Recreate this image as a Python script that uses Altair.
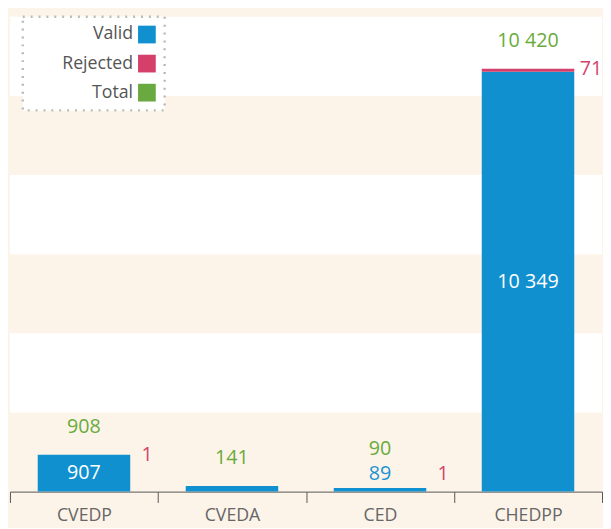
import altair as alt
import pandas as pd

categories = ["CVEDP", "CVEDA", "CED", "CHEDPP"]
valid = [907, 141, 89, 10349]
rejected = [1, 0, 1, 71]
total = [908, 141, 90, 10420]
series = ["Valid", "Rejected", "Total"]
series_colors = ["#1190d0", "#d4406a", "#6aa840"]
band_starts = [1950, 5850, 9750]
band_ends = [3900, 7800, 11700]
y_max = 11700

FONT = "Open Sans"
CREAM = "#fdf4e9"

df = pd.DataFrame({"cat": categories, "Valid": valid, "Rejected": rejected, "Total": total})
bands = pd.DataFrame({"y0": band_starts, "y1": band_ends})

yscale = alt.Scale(domain=[0, y_max], nice=False, zero=True)
xenc = alt.X(
    "cat:N",
    sort=categories,
    scale=alt.Scale(paddingInner=0, paddingOuter=0),
    axis=alt.Axis(
        title=None, labelAngle=0, tickBand="extent", tickSize=11,
        labelPadding=4, labelFontSize=18, labelFont=FONT, labelColor="#666",
        domainColor="#555", tickColor="#555",
    ),
)

band_layer = alt.Chart(bands).mark_rect(color="white").encode(
    y=alt.Y("y0:Q", scale=yscale, axis=None),
    y2="y1:Q",
)

bars = alt.Chart(df).transform_fold(
    ["Valid", "Rejected"], as_=["series", "value"]
).transform_calculate(
    ord="datum.series == 'Valid' ? 0 : 1"
).mark_bar(width=alt.RelativeBandSize(0.625)).encode(
    x=xenc,
    y=alt.Y("sum(value):Q", scale=yscale, axis=None, stack="zero"),
    color=alt.Color(
        "series:N",
        scale=alt.Scale(domain=series, range=series_colors),
        legend=alt.Legend(
            title=None, orient="none", legendX=13, legendY=0,
            symbolType="square", symbolSize=324, symbolStrokeWidth=0,
            symbolOffset=108, labelOffset={"expr": "-23"}, labelAlign="right",
            labelFontSize=18, labelFont=FONT, labelColor="#555",
            rowPadding=11.5, padding=9,
            fillColor="white", strokeColor="#bbbbbb",
        ),
    ),
    order=alt.Order("ord:Q"),
)

base = alt.Chart(df).transform_calculate(
    vmid="datum.Valid / 2",
    vtxt="replace(format(datum.Valid, ','), ',', ' ')",
    rtxt="replace(format(datum.Rejected, ','), ',', ' ')",
    ttxt="replace(format(datum.Total, ','), ',', ' ')",
)

txt = dict(font=FONT, fontSize=20, baseline="middle", align="center")

valid_in = base.transform_filter("datum.Valid >= 600").mark_text(color="white", **txt).encode(
    x=alt.X("cat:N", sort=categories), y=alt.Y("vmid:Q", scale=yscale, axis=None), text="vtxt:N"
)
valid_out = base.transform_filter("datum.Valid < 600 && datum.Rejected > 0").mark_text(
    color="#1a93d4", dy=-14, **txt
).encode(x=alt.X("cat:N", sort=categories), y=alt.Y("Valid:Q", scale=yscale, axis=None), text="vtxt:N")

total_a = base.transform_filter("datum.Valid >= 600 || datum.Rejected == 0").mark_text(
    color="#6aab3c", dy=-28, **txt
).encode(x=alt.X("cat:N", sort=categories), y=alt.Y("Total:Q", scale=yscale, axis=None), text="ttxt:N")
total_b = base.transform_filter("datum.Valid < 600 && datum.Rejected > 0").mark_text(
    color="#6aab3c", dy=-39, **txt
).encode(x=alt.X("cat:N", sort=categories), y=alt.Y("Total:Q", scale=yscale, axis=None), text="ttxt:N")

rej_a = base.transform_filter("datum.Rejected > 0 && datum.Valid >= 600").mark_text(
    color="#d4436a", dx=64, dy=0, **txt
).encode(x=alt.X("cat:N", sort=categories), y=alt.Y("Total:Q", scale=yscale, axis=None), text="rtxt:N")
rej_b = base.transform_filter("datum.Rejected > 0 && datum.Valid < 600").mark_text(
    color="#d4436a", dx=64, dy=-14, **txt
).encode(x=alt.X("cat:N", sort=categories), y=alt.Y("Total:Q", scale=yscale, axis=None), text="rtxt:N")

chart = alt.layer(
    band_layer, bars, valid_in, valid_out, total_a, total_b, rej_a, rej_b
).properties(
    width=601, height=482,
    padding={"left": 1, "top": 3, "right": 0, "bottom": 0},
    background=CREAM,
).configure_view(stroke=None, fill=CREAM).configure_legend(strokeDash=[2, 6], strokeWidth=2.5)

chart.save("out.html", embed_options={"renderer": "svg", "actions": False})
